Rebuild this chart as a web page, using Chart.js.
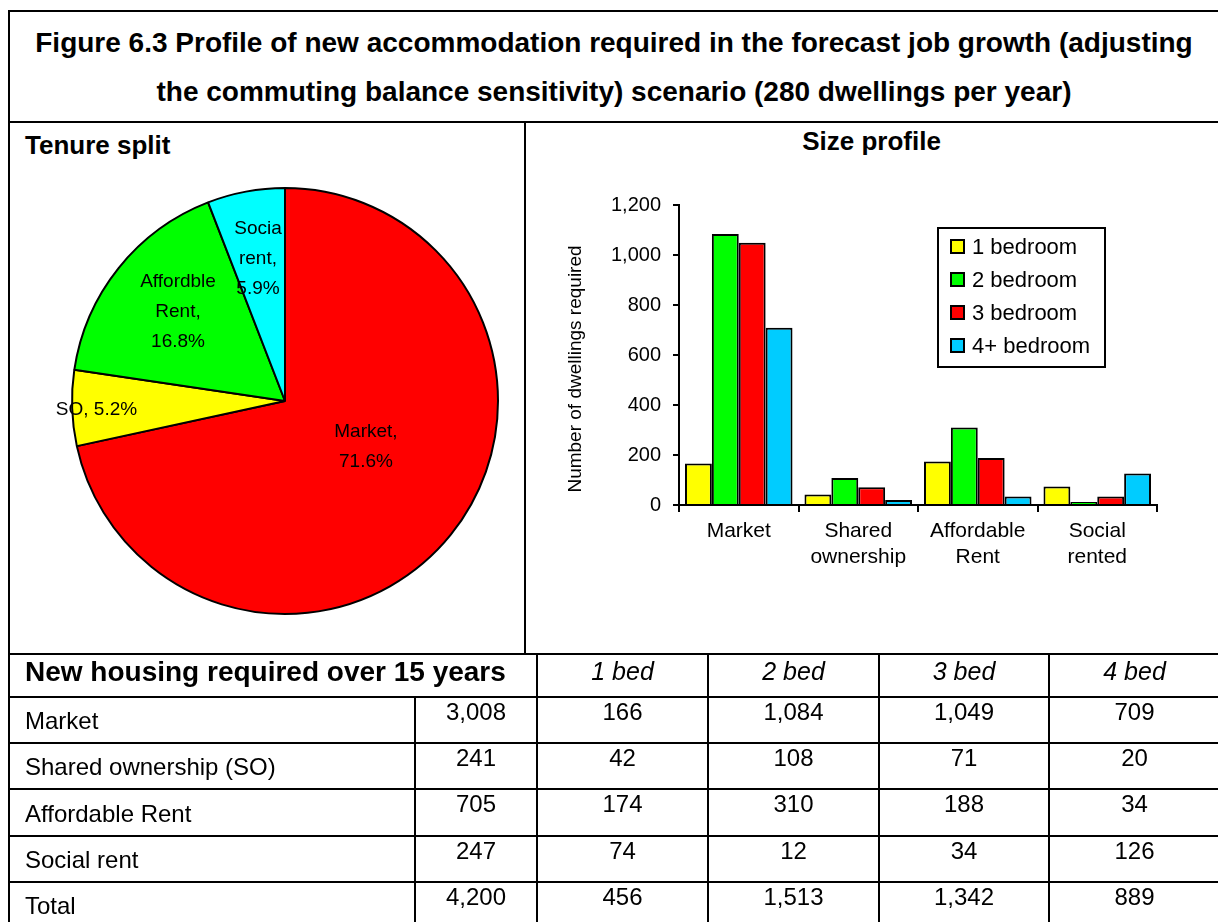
<!DOCTYPE html>
<html><head><meta charset="utf-8">
<script src="https://cdn.jsdelivr.net/npm/chart.js@4.4.0/dist/chart.umd.min.js"></script>
<style>
html,body{margin:0;padding:0;background:#fff;width:1218px;height:922px;overflow:hidden;font-family:"Liberation Sans",Arial,sans-serif;color:#000}
.ln{position:absolute;background:#000}
#title{position:absolute;left:10px;top:12px;width:1208px;height:110px;display:flex;align-items:center;justify-content:center;text-align:center;font-weight:bold;font-size:28px;line-height:49px}
.sub{position:absolute;font-weight:bold;font-size:26px;line-height:30px}
.cell{position:absolute;font-size:24px;line-height:28px;white-space:nowrap}
canvas{position:absolute}
</style></head>
<body>
<div id="title">Figure 6.3 Profile of new accommodation required in the forecast job growth (adjusting<br>the commuting balance sensitivity) scenario (280 dwellings per year)</div>
<div class="sub" style="left:25px;top:130px">Tenure split</div>
<div class="sub" style="left:525px;width:693px;top:126px;text-align:center">Size profile</div>
<canvas id="pie" width="514" height="531" style="left:10px;top:123px"></canvas>
<canvas id="bar" width="692" height="530" style="left:526px;top:123px"></canvas>
<div id="frame"></div>
<div id="table"></div>
<script>
// ---- data ----
const tenureCategories = ['Market', 'Shared ownership', 'Affordable Rent', 'Social rented'];
const tenureTotals = [3008, 241, 705, 247];
const pieLabelLines = [['Market,', '71.6%'], ['SO, 5.2%'], ['Affordble', 'Rent,', '16.8%'], ['Socia', 'rent,', '5.9%']];
const barCategories = [['Market'], ['Shared', 'ownership'], ['Affordable', 'Rent'], ['Social', 'rented']];
const seriesNames = ['1 bedroom', '2 bedroom', '3 bedroom', '4+ bedroom'];
const bed1 = [166, 42, 174, 74];
const bed2 = [1084, 108, 310, 12];
const bed3 = [1049, 71, 188, 34];
const bed4 = [709, 20, 34, 126];
const yTicks = [0, 200, 400, 600, 800, 1000, 1200];
const yAxisTitle = 'Number of dwellings required';
const tableTitle = 'New housing required over 15 years';
const tableColHeads = ['1 bed', '2 bed', '3 bed', '4 bed'];
const tableRowLabels = ['Market', 'Shared ownership (SO)', 'Affordable Rent', 'Social rent', 'Total'];
const totalsRow = [4200, 456, 1513, 1342, 889];

// ---- styles ----
const pieColors = ['#FF0000', '#FFFF00', '#00FF00', '#00FFFF'];
const barColors = ['#FFFF00', '#00FF00', '#FF0000', '#00CCFF'];
const pieLabelFrac = [0.437, 0.886, 0.653, 0.678];
const pieLabelShift = [-9.3, -0.9, 1.1, -0.2];
const FONT = '"Liberation Sans", Arial, sans-serif';
const fmt = v => v.toLocaleString('en-US');

Chart.defaults.font.family = FONT;
Chart.defaults.color = '#000';

// ---- frame lines ----
const frame = document.getElementById('frame');
function line(l, t, w, h) {
  const d = document.createElement('div');
  d.className = 'ln';
  d.style.cssText = `left:${l}px;top:${t}px;width:${w}px;height:${h}px`;
  frame.appendChild(d);
}
line(8, 10, 1210, 2);
line(8, 10, 2, 912);
line(8, 121, 1210, 2);
line(524, 122, 2, 532);

// ---- table ----
const xs = [9, 415, 537, 708, 879, 1049, 1220];
const ys = [654, 697, 743, 789, 836, 882, 928];
ys.forEach(y => line(8, y - 1, 1210, 2));
[537, 708, 879, 1049].forEach(x => line(x - 1, 654, 2, 43));
[415, 537, 708, 879, 1049].forEach(x => line(x - 1, 697, 2, 240));
const tbl = document.getElementById('table');
function cell(text, l, t, w, h, style) {
  const d = document.createElement('div');
  d.className = 'cell';
  d.style.cssText = `left:${l}px;top:${t}px;width:${w}px;height:${h}px;` + style;
  d.textContent = text;
  tbl.appendChild(d);
}
cell(tableTitle, 25, 654, 510, 43, 'font-weight:bold;font-size:28px;line-height:34px;padding-top:1px');
tableColHeads.forEach((h, j) => cell(h, xs[j + 2], 654, xs[j + 3] - xs[j + 2], 43, 'font-style:italic;font-size:25px;text-align:center;padding-top:3px'));
const tableRows = tableRowLabels.map((lab, i) => i < 4 ? [tenureTotals[i], bed1[i], bed2[i], bed3[i], bed4[i]] : totalsRow);
tableRowLabels.forEach((lab, i) => {
  const t = ys[i + 1], h = ys[i + 2] - ys[i + 1];
  cell(lab, 25, t, 380, h, 'line-height:' + (h + 2) + 'px');
  tableRows[i].forEach((v, j) => cell(fmt(v), xs[j + 1], t, xs[j + 2] - xs[j + 1], h, 'text-align:center;padding-top:1px'));
});

// ---- pie ----
const pieLabelPlugin = {
  id: 'pieLabels',
  afterDatasetsDraw(chart) {
    const ctx = chart.ctx;
    ctx.save();
    ctx.font = '19px ' + FONT;
    ctx.fillStyle = '#000';
    ctx.textAlign = 'center';
    ctx.textBaseline = 'middle';
    chart.getDatasetMeta(0).data.forEach((arc, i) => {
      const p = arc.getProps(['x', 'y', 'startAngle', 'endAngle', 'outerRadius'], true);
      const mid = (p.startAngle + p.endAngle) / 2 + pieLabelShift[i] * Math.PI / 180;
      const r = p.outerRadius * pieLabelFrac[i];
      const cx = p.x + Math.cos(mid) * r, cy = p.y + Math.sin(mid) * r;
      const lines = pieLabelLines[i];
      const lh = 30;
      lines.forEach((s, k) => ctx.fillText(s, cx, cy + (k - (lines.length - 1) / 2) * lh));
    });
    ctx.restore();
  }
};
new Chart(document.getElementById('pie'), {
  type: 'pie',
  data: {
    labels: tenureCategories,
    datasets: [{ data: tenureTotals, backgroundColor: pieColors, borderColor: '#000', borderWidth: 2 }]
  },
  options: {
    responsive: false, animation: false,
    layout: { padding: { left: 61, top: 64, right: 25, bottom: 39 } },
    plugins: { legend: { display: false }, tooltip: { enabled: false } }
  },
  plugins: [pieLabelPlugin]
});

// ---- bar ----
const boxLegend = {
  id: 'boxLegend',
  afterDraw(chart) {
    const ctx = chart.ctx, a = chart.chartArea;
    const bx = a.left + 259, by = a.top + 23, bw = 167, bh = 139;
    ctx.save();
    ctx.fillStyle = '#fff';
    ctx.fillRect(bx, by, bw, bh);
    ctx.strokeStyle = '#000';
    ctx.lineWidth = 2;
    ctx.strokeRect(bx, by, bw, bh);
    ctx.font = '22px ' + FONT;
    ctx.textBaseline = 'middle';
    ctx.textAlign = 'left';
    chart.data.datasets.forEach((ds, i) => {
      const cy = by + 19 + i * 33;
      ctx.fillStyle = ds.backgroundColor;
      ctx.fillRect(bx + 13, cy - 7, 13, 13);
      ctx.lineWidth = 2;
      ctx.strokeRect(bx + 13, cy - 7, 13, 13);
      ctx.fillStyle = '#000';
      ctx.fillText(ds.label, bx + 34, cy + 1);
    });
    ctx.restore();
  }
};
const yTitlePlugin = {
  id: 'yTitle',
  afterDraw(chart) {
    const ctx = chart.ctx, a = chart.chartArea;
    ctx.save();
    ctx.font = '19px ' + FONT;
    ctx.fillStyle = '#000';
    ctx.textAlign = 'center';
    ctx.textBaseline = 'middle';
    ctx.translate(50, (a.top + a.bottom) / 2 + 14);
    ctx.rotate(-Math.PI / 2);
    ctx.fillText(yAxisTitle, 0, 0);
    ctx.restore();
  }
};
const seriesData = [bed1, bed2, bed3, bed4];
new Chart(document.getElementById('bar'), {
  type: 'bar',
  data: {
    labels: barCategories,
    datasets: seriesNames.map((n, i) => ({
      label: n, data: seriesData[i], backgroundColor: barColors[i],
      borderColor: '#000', borderWidth: 2, borderSkipped: 'start',
      categoryPercentage: 0.9, barPercentage: 1.0
    }))
  },
  options: {
    responsive: false, animation: false,
    layout: { padding: { left: 0, top: 82, right: 61, bottom: 0 } },
    plugins: { legend: { display: false }, tooltip: { enabled: false } },
    scales: {
      x: {
        grid: { offset: true, drawOnChartArea: false, drawTicks: true, tickLength: 7, color: '#000', lineWidth: 2 },
        border: { display: true, color: '#000', width: 2 },
        ticks: { font: { size: 21, lineHeight: 1.25 }, color: '#000', padding: 6, maxRotation: 0 },
        afterFit: s => { s.height = 148; }
      },
      y: {
        min: 0, max: 1200,
        afterBuildTicks: s => { s.ticks = yTicks.map(v => ({ value: v })); },
        grid: { drawOnChartArea: false, drawTicks: true, tickLength: 6, color: '#000', lineWidth: 2 },
        border: { display: true, color: '#000', width: 2 },
        ticks: { font: { size: 20 }, color: '#000', padding: 12, callback: v => fmt(v) },
        title: { display: false },
        afterFit: s => { s.width = 153; }
      }
    }
  },
  plugins: [boxLegend, yTitlePlugin]
});
</script>
</body></html>
